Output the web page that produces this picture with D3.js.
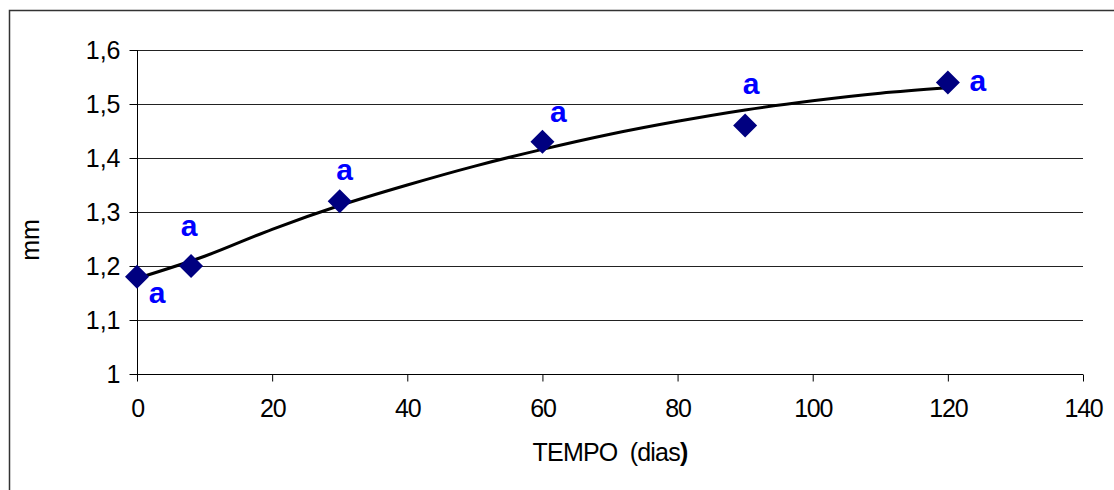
<!DOCTYPE html>
<html>
<head>
<meta charset="utf-8">
<script src="https://cdn.jsdelivr.net/npm/d3@7"></script>
<style>
  html, body { margin: 0; padding: 0; background: #fff; }
  svg { display: block; }
  text { font-family: Arial, "Liberation Sans", sans-serif; }
</style>
</head>
<body>
<script>
// ---- data ----
const days = [0, 8, 30, 60, 90, 120];
const mm = [1.18, 1.20, 1.32, 1.43, 1.46, 1.54];
const letters = ["a", "a", "a", "a", "a", "a"];
// trend line
const trendDays = [0, 10, 20, 30, 40, 50, 60, 70, 80, 90, 100, 110, 120];
const trendMm = [1.177, 1.218, 1.268, 1.312, 1.350, 1.385, 1.416, 1.444, 1.468, 1.489, 1.506, 1.520, 1.530];
const xTicks = [0, 20, 40, 60, 80, 100, 120, 140];
const yTicks = [1, 1.1, 1.2, 1.3, 1.4, 1.5, 1.6];
const xTitle = "TEMPO  (dias";
const yTitle = "mm";

// ---- layout ----
const W = 1114, H = 490;
const mLeft = 137, mRight = 1083, mTop = 50, mBottom = 374;
const labelOffsets = [[20, 18], [-2, -38], [5, -29], [16, -28], [6, -40], [30, 0]];

const svg = d3.select("body").append("svg").attr("width", W).attr("height", H);

// outer border
svg.append("rect").attr("x", 9.5).attr("y", 10.5).attr("width", W + 20).attr("height", H + 20)
  .attr("fill", "none").attr("stroke", "#333").attr("stroke-width", 1.5);

const x = d3.scaleLinear().domain([0, 140]).range([mLeft, mRight]);
const y = d3.scaleLinear().domain([1, 1.6]).range([mBottom, mTop]);

// gridlines
svg.append("g").selectAll("line").data(yTicks.slice(1)).join("line")
  .attr("x1", mLeft).attr("x2", mRight)
  .attr("y1", d => Math.round(y(d)) + 0.5).attr("y2", d => Math.round(y(d)) + 0.5)
  .attr("stroke", "#222").attr("stroke-width", 1);

// y axis
const yAxis = svg.append("g").attr("transform", `translate(${mLeft + 0.5},0)`)
  .call(d3.axisLeft(y).tickValues(yTicks).tickSize(8).tickPadding(9)
    .tickFormat(d => d3.format(".1~f")(d).replace(".", ",")));
yAxis.select(".domain").attr("stroke", "#000").attr("d", `M0,${mTop}V${mBottom}`);
yAxis.selectAll(".tick line").attr("stroke", "#000");
yAxis.selectAll("text").attr("font-size", 25).attr("fill", "#000")
  .attr("font-family", "Arial, 'Liberation Sans', sans-serif");

// x axis
const xAxis = svg.append("g").attr("transform", `translate(0,${mBottom + 0.5})`)
  .call(d3.axisBottom(x).tickValues(xTicks).tickSize(7).tickPadding(18));
xAxis.select(".domain").attr("stroke", "#000").attr("d", `M${mLeft},0H${mRight}`);
xAxis.selectAll(".tick line").attr("stroke", "#000");
xAxis.selectAll("text").attr("font-size", 25).attr("fill", "#000")
  .attr("letter-spacing", -1.2)
  .attr("font-family", "Arial, 'Liberation Sans', sans-serif");

// axis titles
const xt = svg.append("text").attr("x", (mLeft + mRight) / 2).attr("y", 461)
  .attr("text-anchor", "middle").attr("font-size", 25).attr("letter-spacing", -0.8)
  .style("white-space", "pre").attr("fill", "#000");
xt.append("tspan").text(xTitle);
xt.append("tspan").attr("font-weight", "bold").text(")");

svg.append("text").attr("transform", `translate(39,240) rotate(-90)`)
  .attr("text-anchor", "middle").attr("font-size", 25).attr("fill", "#000").text(yTitle);

// trend line
const line = d3.line().x(d => x(d[0])).y(d => y(d[1])).curve(d3.curveMonotoneX);
svg.append("path").datum(trendDays.map((d, i) => [d, trendMm[i]]))
  .attr("d", line).attr("fill", "none").attr("stroke", "#000").attr("stroke-width", 3);

// markers
const pts = days.map((d, i) => ({ x: d, y: mm[i], t: letters[i], o: labelOffsets[i] }));
svg.append("g").selectAll("path").data(pts).join("path")
  .attr("transform", d => `translate(${x(d.x)},${y(d.y)})`)
  .attr("d", "M0,-12L12,0L0,12L-12,0Z")
  .attr("fill", "#000080");

// letters
svg.append("g").selectAll("text").data(pts).join("text")
  .attr("x", d => x(d.x) + d.o[0]).attr("y", d => y(d.y) + d.o[1])
  .attr("dy", "0.27em").attr("text-anchor", "middle")
  .attr("font-size", 30).attr("font-weight", "bold").attr("fill", "#0000FF")
  .text(d => d.t);
</script>
</body>
</html>
